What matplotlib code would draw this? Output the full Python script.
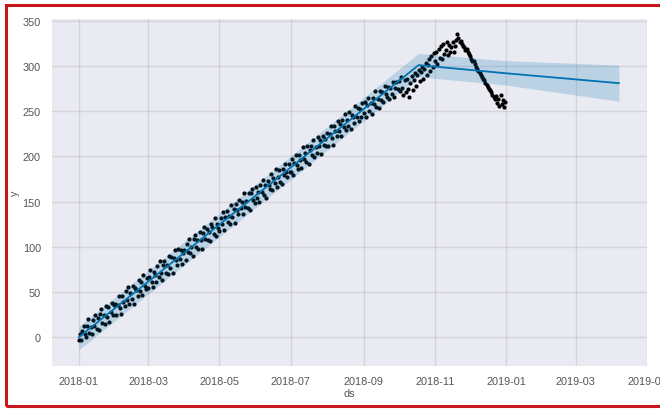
import matplotlib
matplotlib.use("Agg")
import matplotlib.pyplot as plt
from matplotlib.patches import Rectangle
import pandas as pd

# ---- observed data (daily, starting 2018-01-01) ----
start_date = "2018-01-01"
y_jan = [-3,3,-3,7,12,3,0,12,20,5,11,3,19,12,24,9,21,8,25,31,16,24,15,34,22,33,17,28,38,24,35]
y_feb = [37,24,36,45,32,26,45,39,34,51,41,55,37,49,42,56,37,54,52,45,63,51,61,47,69,57,53,65]
y_mar = [54,66,74,61,55,72,69,61,79,66,84,71,63,80,84,71,80,70,90,77,89,71,87,96,85,80,97,86,96,81,93]
y_apr = [96,85,103,94,109,93,100,90,108,113,100,107,98,116,107,97,115,122,109,120,107,116,106,125,122,114,132,112,125,121]
y_may = [117,132,125,138,118,133,139,127,134,125,146,133,142,126,147,141,136,152,143,149,136,159,144,151,143,159,141,159,164,152,148]
y_jun = [166,154,161,150,168,161,174,157,168,154,173,168,164,180,163,176,171,186,166,177,185,172,169,186,179,192,183,177,192,183]
y_jul = [183,197,179,193,202,190,186,201,196,187,210,197,204,194,211,191,207,212,202,218,199,210,204,221,211,218,203,223,213,219,212]
y_aug = [226,212,225,234,220,213,234,228,222,239,228,236,222,240,233,247,229,240,234,249,230,246,243,237,256,243,253,239,252,244,259]
y_sep = [248,260,244,257,265,250,259,247,265,258,272,255,264,254,272,262,271,260,278,269,266,277,264,276,269,282,266,276,282,274]
y_oct = [283,272,288,276,268,284,271,286,274,266,281,289,273,285,292,278,290,296,283,293,299,286,297,303,290,301,308,294,311,299,314]
y_nov = [305,316,302,319,309,322,308,324,313,318,326,312,323,316,321,327,315,322,329,335,331,326,328,324,322,321,318,319,315,313]
y_dec = [311,308,306,305,302,299,297,294,292,290,288,286,284,281,279,277,275,273,271,268,266,263,267,259,264,256,268,258,262,255,260]

# ---- forecast knots ----
fc_dates = ["2018-01-01", "2018-10-18", "2018-12-31", "2019-04-07"]
fc_yhat  = [0, 301, 292, 281]
fc_lower = [-14, 288, 279, 261]
fc_upper = [12, 314, 306, 301]

# ---- axis ticks ----
y_ticks = [0, 50, 100, 150, 200, 250, 300, 350]
x_tick_labels = ["2018-01", "2018-03", "2018-05", "2018-07", "2018-09",
                 "2018-11", "2019-01", "2019-03", "2019-05"]

y_obs = (y_jan + y_feb + y_mar + y_apr + y_may + y_jun +
         y_jul + y_aug + y_sep + y_oct + y_nov + y_dec)
ds = pd.date_range(start_date, periods=len(y_obs), freq="D")
fcd = pd.to_datetime(fc_dates)

plt.rcParams['font.family'] = ['Liberation Sans', 'DejaVu Sans']

fig = plt.figure(figsize=(6.6, 4.1), dpi=100)
ax = fig.add_axes([52/660, 1 - 367/410, (647 - 52)/660, (367 - 20)/410])
ax.set_facecolor('#EAEAF2')
for s in ax.spines.values():
    s.set_visible(False)

ax.plot(ds, y_obs, 'k.', markersize=4, zorder=2)
ax.plot(fcd, fc_yhat, ls='-', c='#0072B2', lw=1.3, zorder=3)
ax.fill_between(fcd, fc_lower, fc_upper, color='#0072B2', alpha=0.2, lw=0, zorder=4)

ax.set_xlim(pd.Timestamp("2017-12-09"), pd.Timestamp("2019-04-30"))
ax.set_ylim(-32, 352)
ax.set_yticks(y_ticks)
ax.set_xticks(pd.to_datetime([l + "-01" for l in x_tick_labels]))
ax.set_xticklabels(x_tick_labels)
ax.grid(True, which='major', c='gray', ls='-', lw=1, alpha=0.2)
ax.set_axisbelow(True)
ax.tick_params(axis='both', length=0, labelsize=7.8, labelcolor='#555555')
ax.tick_params(axis='x', pad=7)
ax.tick_params(axis='y', pad=8)
ax.set_xlabel('ds', fontsize=7.8, color='#555555', labelpad=2)
ax.set_ylabel('y', fontsize=7.8, color='#555555', labelpad=2)

fig.add_artist(Rectangle((6/660, 3/410), 1.1, 401/410, transform=fig.transFigure,
                         fill=False, edgecolor='#C8161D', lw=2.2, clip_on=False))

fig.savefig('out.png', dpi=100)
